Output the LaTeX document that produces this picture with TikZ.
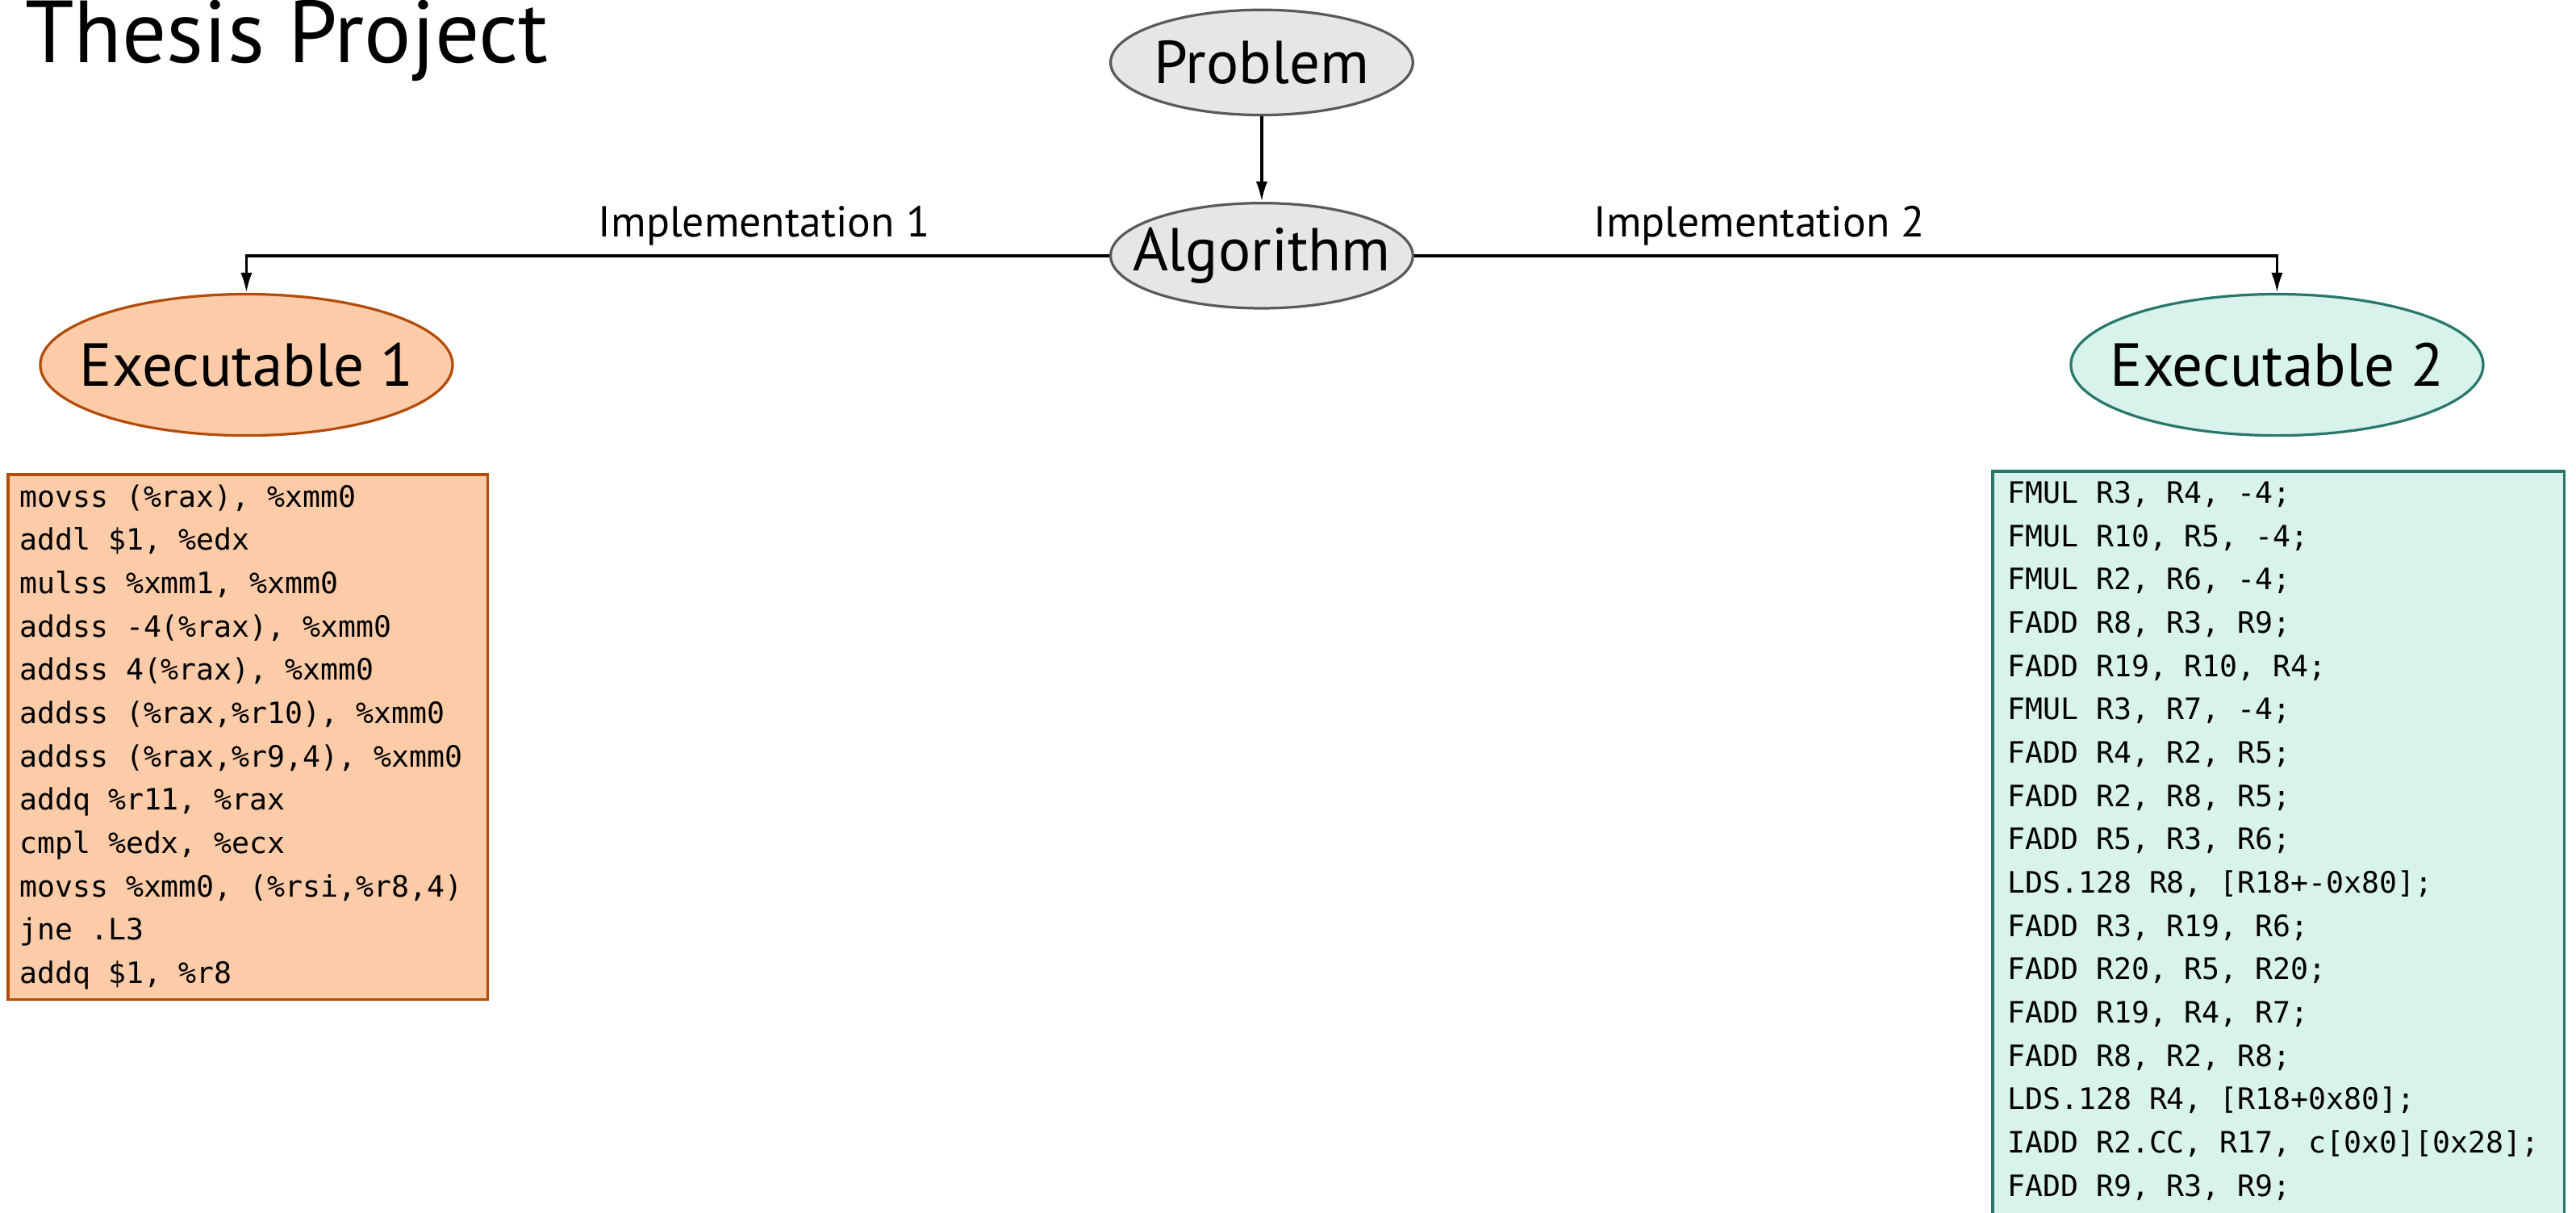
\documentclass[tikz,border=0pt]{standalone}
\usepackage{fontspec}
\setmainfont{PT Sans}
\newfontfamily\codefont{DejaVu Sans Mono}[WordSpace={1,0,0}]
\DeclareRobustCommand\codesetup{\codefont\fontsize{10.2pt}{15pt}\selectfont}
\newcommand\codespace{\spaceskip=0.602em\xspaceskip=0.602em\relax}
\usetikzlibrary{arrows.meta}
\usetikzlibrary{shapes.geometric}
\usetikzlibrary{positioning}
\definecolor{mgray}{RGB}{230,230,230}
\definecolor{mgrayline}{RGB}{90,90,90}
\definecolor{mpeach}{RGB}{252,203,168}
\definecolor{mpeachline}{RGB}{180,75,10}
\definecolor{mteal}{RGB}{216,242,236}
\definecolor{mtealline}{RGB}{40,120,105}

\begin{document}
\begin{tikzpicture}[
    oval/.style={ellipse, draw, line width=0.9pt, inner xsep=-1.5em, inner ysep=-0.5em,
      font=\fontsize{21}{24}\selectfont},
    flow/.style={-{Latex[length=7pt,width=4pt]}, line width=1pt},
    implabel/.style={above, inner sep=3pt, font=\fontsize{15}{18}\selectfont},
    codebox/.style={draw, line width=1pt, anchor=north west, align=left,
      inner ysep=0.12cm, font=\codesetup}
  ]
    \useasboundingbox (0, 0) rectangle (31.36, -14.76);
    \clip (0, 0) rectangle (31.36, -14.76);

    \node [anchor=base west, inner sep=0pt, font=\fontsize{30.5}{34}\selectfont] (title) at (0.30, -0.76) {Thesis Project};

    \node [oval, fill=mgray, draw=mgrayline, minimum width=3.68cm, minimum height=1.28cm] (prob) at (15.36, -0.76) {Problem};
    \node [oval, fill=mgray, draw=mgrayline, minimum width=3.68cm, minimum height=1.28cm,
      below=1.04cm of prob] (alg) {Algorithm};

    \node [oval, fill=mpeach, draw=mpeachline, minimum width=5.02cm, minimum height=1.72cm] (exeone) at (3.0, -4.44) {Executable 1};
    \node [oval, fill=mteal, draw=mtealline, minimum width=5.02cm, minimum height=1.72cm] (exetwo) at (27.72, -4.44) {Executable 2};

    \draw [flow] (prob) -- (alg);
    \draw [flow] (alg.west) -| node [implabel, pos=0.2] {Implementation 1} (exeone.north);
    \draw [flow] (alg.east) -| node [implabel, pos=0.2] {Implementation 2} (exetwo.north);

    \node [codebox, fill=mpeach, draw=mpeachline, inner xsep=0.14cm, text width=5.56cm] (codeone) at (0.08, -5.76) {\codespace
      movss (\%rax), \%xmm0\\
      addl \$1, \%edx\\
      mulss \%xmm1, \%xmm0\\
      addss -4(\%rax), \%xmm0\\
      addss 4(\%rax), \%xmm0\\
      addss (\%rax,\%r10), \%xmm0\\
      addss (\%rax,\%r9,4), \%xmm0\\
      addq \%r11, \%rax\\
      cmpl \%edx, \%ecx\\
      movss \%xmm0, (\%rsi,\%r8,4)\\
      jne .L3\\
      addq \$1, \%r8};

    \node [codebox, fill=mteal, draw=mtealline, inner xsep=0.18cm, text width=6.6cm] (codetwo) at (24.24, -5.72) {\codespace
      FMUL R3, R4, -4;\\
      FMUL R10, R5, -4;\\
      FMUL R2, R6, -4;\\
      FADD R8, R3, R9;\\
      FADD R19, R10, R4;\\
      FMUL R3, R7, -4;\\
      FADD R4, R2, R5;\\
      FADD R2, R8, R5;\\
      FADD R5, R3, R6;\\
      LDS.128 R8, [R18+-0x80];\\
      FADD R3, R19, R6;\\
      FADD R20, R5, R20;\\
      FADD R19, R4, R7;\\
      FADD R8, R2, R8;\\
      LDS.128 R4, [R18+0x80];\\
      IADD R2.CC, R17, c[0x0][0x28];\\
      FADD R9, R3, R9;\\
      \mbox{}};
  \end{tikzpicture}
\end{document}
